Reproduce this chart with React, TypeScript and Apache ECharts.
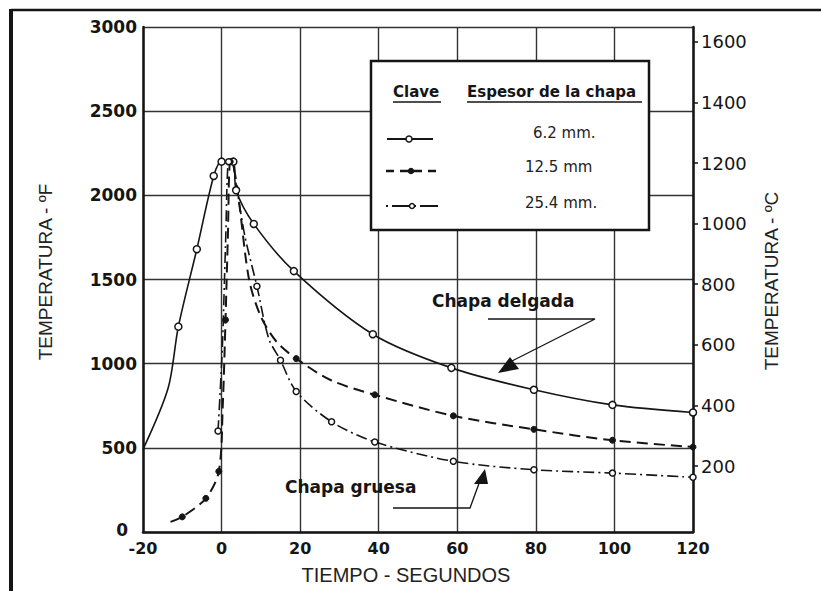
import React, { useEffect, useRef } from "react";
import * as echarts from "echarts";

// Time (s) and temperature (°F)
const time62 = [-20, -13.6, -11, -6.3, -2, 0, 3, 3.7, 8.2, 18.4, 38.5, 58.5, 79.5, 99.5, 120];
const temp62 = [490, 855, 1220, 1680, 2115, 2200, 2200, 2030, 1830, 1550, 1175, 975, 845, 755, 710];
const marked62 = [-11, -6.3, -2, 0, 3, 3.7, 8.2, 18.4, 38.5, 58.5, 79.5, 99.5, 120];

const time125 = [-13, -10, -4, -0.7, 0.3, 1, 1.6, 2.2, 3, 4.5, 7, 10, 14, 19, 28, 39, 59, 79.5, 99.5, 120];
const temp125 = [60, 90, 200, 360, 750, 1260, 1750, 2200, 2180, 1950, 1500, 1280, 1130, 1030, 900, 815, 690, 610, 545, 505];
const marked125 = [-10, -4, -0.7, 1, 2.2, 19, 39, 59, 79.5, 99.5, 120];

const time254 = [-0.9, 0.2, 1, 1.8, 2.5, 4, 6, 9, 12, 15, 19, 28, 39, 59, 79.5, 99.5, 120];
const temp254 = [600, 1100, 1700, 2200, 2200, 2020, 1750, 1460, 1150, 1020, 835, 655, 535, 420, 370, 350, 325];
const marked254 = [-0.9, 1.8, 9, 15, 19, 28, 39, 59, 79.5, 99.5, 120];

const xTicks = { min: -20, max: 120, step: 20 };
const fTicks = { min: 0, max: 3000, step: 500 };
const cLabels = [200, 400, 600, 800, 1000, 1200, 1400, 1600];

const seriesNames = ["6.2 mm.", "12.5 mm", "25.4 mm."];

const fToC = (f: number) => (f - 32) / 1.8;

const INK = "#151515";

function buildData(times: number[], temps: number[], marked: number[]) {
  return times.map((t, i) => ({
    value: [t, temps[i]],
    symbol: marked.includes(t) ? "circle" : "none",
  }));
}

export default function App() {
  const ref = useRef<HTMLDivElement>(null);
  useEffect(() => {
    document.body.style.margin = "0";
    if (!ref.current) return;
    const chart = echarts.init(ref.current, null, { renderer: "svg" });
    const txt = (
      text: string,
      x: number,
      y: number,
      font: string,
      align: string = "left",
      rotation = 0,
      fill = INK
    ) => ({
      type: "text",
      x,
      y,
      rotation,
      z: 20,
      style: { text, font, fill, textAlign: align, verticalAlign: "middle" },
    });
    const line = (x1: number, y1: number, x2: number, y2: number, w = 1.5, dash: any = null) => ({
      type: "line",
      z: 20,
      shape: { x1, y1, x2, y2 },
      style: { stroke: INK, lineWidth: w, lineDash: dash },
    });
    const circ = (cx: number, cy: number, r: number, fill: string) => ({
      type: "circle",
      z: 21,
      shape: { cx, cy, r },
      style: { fill, stroke: INK, lineWidth: 1.5 },
    });
    const plain = (v: number) => String(v);
    const option: any = {
      animation: false,
      backgroundColor: "#ffffff",
      grid: { left: 143, right: 128, top: 27, bottom: 59, containLabel: false },
      xAxis: {
        type: "value",
        min: xTicks.min,
        max: xTicks.max,
        interval: xTicks.step,
        axisLine: { show: true, onZero: false, lineStyle: { color: INK, width: 2.5 } },
        axisTick: { show: false },
        axisLabel: {
          margin: 9,
          color: INK,
          fontFamily: "DejaVu Sans",
          fontWeight: "bold",
          fontSize: 16,
          lineHeight: 14,
          formatter: plain,
        },
        splitLine: { show: true, lineStyle: { color: "#333", width: 1.4 } },
      },
      yAxis: [
        {
          type: "value",
          min: fTicks.min,
          max: fTicks.max,
          interval: fTicks.step,
          position: "left",
          axisLine: { show: true, onZero: false, lineStyle: { color: INK, width: 2.5 } },
          axisTick: { show: false },
          axisLabel: {
            margin: 6,
            color: INK,
            fontFamily: "DejaVu Sans",
            fontWeight: "bold",
            fontSize: 17,
            lineHeight: 14,
            formatter: (v: number) => (v === 0 ? "{z|0}" : String(v)),
            rich: {
              z: {
                fontFamily: "DejaVu Sans",
                fontWeight: "bold",
                fontSize: 17,
                lineHeight: 14,
                color: INK,
                padding: [0, 9, 4, 0],
              },
            },
          },
          splitLine: { show: true, lineStyle: { color: "#333", width: 1.4 } },
        },
        {
          type: "value",
          min: fToC(fTicks.min),
          max: fToC(fTicks.max),
          position: "right",
          axisLine: { show: true, onZero: false, lineStyle: { color: INK, width: 2.5 } },
          axisTick: {
            show: true,
            inside: false,
            length: 5,
            customValues: cLabels,
            lineStyle: { color: INK, width: 1.5 },
          },
          axisLabel: {
            margin: 8,
            color: INK,
            fontFamily: "DejaVu Sans",
            fontSize: 18,
            customValues: cLabels,
            formatter: plain,
          },
          splitLine: { show: false },
        },
      ],
      series: [
        {
          name: seriesNames[0],
          type: "line",
          yAxisIndex: 0,
          data: buildData(time62, temp62, marked62),
          symbol: "circle",
          symbolSize: 7,
          smooth: 0.3,
          lineStyle: { color: INK, width: 1.6, type: "solid" },
          itemStyle: { color: "#ffffff", borderColor: INK, borderWidth: 1.5 },
          z: 5,
        },
        {
          name: seriesNames[1],
          type: "line",
          yAxisIndex: 0,
          data: buildData(time125, temp125, marked125),
          symbol: "circle",
          symbolSize: 6,
          smooth: 0.3,
          lineStyle: { color: INK, width: 2, type: [11, 6] },
          itemStyle: { color: INK, borderColor: INK, borderWidth: 1 },
          z: 5,
        },
        {
          name: seriesNames[2],
          type: "line",
          yAxisIndex: 0,
          data: buildData(time254, temp254, marked254),
          symbol: "circle",
          symbolSize: 6,
          smooth: 0.3,
          lineStyle: { color: INK, width: 1.6, type: [11, 4, 2, 4] },
          itemStyle: { color: "#ffffff", borderColor: INK, borderWidth: 1.5 },
          z: 5,
        },
      ],
      graphic: [
        // outer frame
        line(11, 10, 821, 10, 2.5),
        line(11, 9, 11, 591, 4),
        // legend box
        {
          type: "rect",
          z: 19,
          shape: { x: 371, y: 61, width: 278, height: 169 },
          style: { fill: "#ffffff", stroke: INK, lineWidth: 2.5 },
        },
        txt("Clave", 393, 92, 'bold 15px "DejaVu Sans"'),
        line(393, 102, 441, 102, 1.5),
        txt("Espesor de la chapa", 467, 92, 'bold 15px "DejaVu Sans"'),
        line(467, 102, 642, 102, 1.5),
        txt(seriesNames[0], 533, 133, '15px "DejaVu Sans"', "left", 0, "#222"),
        txt(seriesNames[1], 525, 167, '15px "DejaVu Sans"', "left", 0, "#222"),
        txt(seriesNames[2], 525, 203, '15px "DejaVu Sans"', "left", 0, "#222"),
        line(387, 139, 433, 139, 2),
        circ(409, 139, 3, "#ffffff"),
        line(386, 171, 439, 171, 2.5, [8, 6]),
        circ(411, 171, 2.5, INK),
        line(386, 206, 439, 206, 2, [2, 4, 18, 4]),
        circ(412, 206, 2.5, "#ffffff"),
        // annotations
        txt("Chapa delgada", 432, 301, 'bold 17px "DejaVu Sans"'),
        {
          type: "polyline",
          z: 20,
          shape: { points: [[488, 319], [595, 319], [510, 362]] },
          style: { stroke: INK, lineWidth: 1.3, fill: null },
        },
        {
          type: "polygon",
          z: 20,
          shape: { points: [[498, 373], [519, 369], [510, 357]] },
          style: { fill: INK },
        },
        txt("Chapa gruesa", 285, 487, 'bold 17px "DejaVu Sans"'),
        {
          type: "polyline",
          z: 20,
          shape: { points: [[393, 508], [470, 508], [481, 478]] },
          style: { stroke: INK, lineWidth: 1.3, fill: null },
        },
        {
          type: "polygon",
          z: 20,
          shape: { points: [[474, 484], [488, 484], [485, 469]] },
          style: { fill: INK },
        },
        // axis titles
        txt("TEMPERATURA - ºF", 45, 272, '19px "Liberation Sans"', "center", Math.PI / 2, "#222"),
        txt("TEMPERATURA - ºC", 771, 281, '19px "Liberation Sans"', "center", Math.PI / 2, "#222"),
        txt("TIEMPO - SEGUNDOS", 406, 575, '20px "Liberation Sans"', "center", 0, "#222"),
      ],
    };
    chart.setOption(option);
    return () => chart.dispose();
  }, []);
  return <div ref={ref} style={{ width: 821, height: 591 }} />;
}
